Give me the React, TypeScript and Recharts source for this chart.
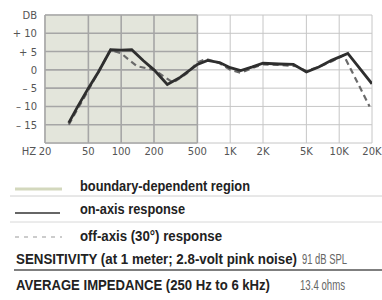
import React from "react";
import { LineChart, Line, XAxis, YAxis, CartesianGrid, ReferenceArea, ReferenceLine } from "recharts";

const freqTicks = [20, 50, 100, 200, 500, 1000, 2000, 5000, 10000, 20000];
const freqTickLabels = ["20", "50", "100", "200", "500", "1K", "2K", "5K", "10K", "20K"];
const dbTicks = [15, 10, 5, 0, -5, -10, -15, -20];
const dbTickLabels = ["DB", "+ 10", "+ 5", "0", "\u2013 5", "\u2013 10", "\u2013 15", ""];

const onAxisFreq = [33, 40, 50, 62, 80, 100, 125, 160, 200, 265, 350, 500, 620, 800, 1000, 1250, 1600, 2000, 2800, 3800, 5000, 6500, 8500, 12000, 20000];
const onAxisDb = [-14.5, -10, -5, -0.5, 5.5, 5.4, 5.5, 2.5, 0, -4, -2, 1.5, 2.6, 2, 0.6, -0.2, 0.8, 1.8, 1.6, 1.5, -0.6, 0.8, 2.6, 4.5, -3.8];

const offAxisFreq = [33, 50, 80, 100, 115, 140, 200, 300, 400, 500, 600, 800, 1000, 1250, 1600, 2000, 3000, 4000, 5000, 6500, 8500, 11000, 19000];
const offAxisDb = [-15, -5.5, 5.5, 4.5, 3, 1, 0, -3.5, -1, 2, 3, 1.8, 0, -0.8, 0.5, 1.5, 1.3, 1, -0.3, 0.8, 2.3, 4, -10];

const boundaryRegion = [20, 500];

const legendItems = ["boundary-dependent region", "on-axis response", "off-axis (30\u00b0) response"];
const specLabels = ["SENSITIVITY (at 1 meter; 2.8-volt pink noise)", "AVERAGE IMPEDANCE (250 Hz to 6 kHz)"];
const specValues = ["91 dB SPL", "13.4 ohms"];

const onAxisData = onAxisFreq.map((f, i) => ({ f, db: onAxisDb[i] }));
const offAxisData = offAxisFreq.map((f, i) => ({ f, db: offAxisDb[i] }));

const axisFont = "'DejaVu Sans', sans-serif";
const legendFont = "'Liberation Sans', Arial, sans-serif";
const SX = 0.75;

const legendLayout = [
  { x: 80, y: 191, w: 170 },
  { x: 80, y: 214, w: 105 },
  { x: 80, y: 241, w: 142 },
];
const specLayout = [
  { x: 16, y: 264, w: 281, vx: 302, vw: 45 },
  { x: 16, y: 290, w: 254, vx: 300, vw: 45 },
];

const FitText = ({ x, y, w, bold, fill, children }: any) => (
  <text
    transform={`translate(${x},${y}) scale(${SX},1)`}
    x={0}
    y={0}
    textLength={w / SX}
    lengthAdjust="spacingAndGlyphs"
    fontFamily={legendFont}
    fontWeight={bold ? "bold" : "normal"}
    fontSize={14}
    fill={fill}
  >
    {children}
  </text>
);

const XTick = (props: any) => {
  const { x, payload } = props;
  const idx = freqTicks.indexOf(payload.value);
  const label = freqTickLabels[idx] ?? "";
  return (
    <g>
      {idx === 0 && (
        <text x={x - 9} y={155} textAnchor="end" fontSize={10} fontFamily={axisFont} fill="#555">HZ</text>
      )}
      <text x={x} y={155} textAnchor="middle" fontSize={10} fontFamily={axisFont} fill="#555">{label}</text>
    </g>
  );
};

const YTick = (props: any) => {
  const { y, payload } = props;
  const idx = dbTicks.indexOf(payload.value);
  const label = dbTickLabels[idx] ?? "";
  return (
    <text x={37} y={y + 4} textAnchor="end" fontSize={10} fontFamily={axisFont} fill="#555">{label}</text>
  );
};

export default function App() {
  return (
    <div style={{ position: "absolute", left: 0, top: 0, width: 382, height: 300, background: "#fff", overflow: "hidden" }}>
      <LineChart width={382} height={165} margin={{ top: 15, right: 10, left: 0, bottom: 0 }}>
        <CartesianGrid stroke="#c6c6c6" strokeWidth={1} />
        <ReferenceArea x1={boundaryRegion[0]} x2={boundaryRegion[1]} y1={-20} y2={15} fill="#e0e2d7" fillOpacity={0.9} stroke="none" />
        {dbTicks.map((v) => (
          <ReferenceLine key={"h" + v} segment={[{ x: boundaryRegion[0], y: v }, { x: boundaryRegion[1], y: v }]} stroke="#a6a6a6" strokeWidth={1.6} />
        ))}
        {freqTicks.filter((f) => f >= boundaryRegion[0] && f <= boundaryRegion[1]).map((f) => (
          <ReferenceLine key={"v" + f} x={f} stroke="#a6a6a6" strokeWidth={1.6} />
        ))}
        <XAxis
          dataKey="f"
          type="number"
          scale="log"
          domain={[20, 20000]}
          ticks={freqTicks}
          allowDataOverflow
          axisLine={false}
          tickLine={false}
          height={22}
          tick={<XTick />}
          interval={0}
        />
        <YAxis
          type="number"
          domain={[-20, 15]}
          ticks={dbTicks}
          axisLine={false}
          tickLine={false}
          width={45}
          tick={<YTick />}
          interval={0}
        />
        <Line data={offAxisData} dataKey="db" stroke="#6a6a6a" strokeWidth={2.2} strokeDasharray="6 4" dot={false} isAnimationActive={false} />
        <Line data={onAxisData} dataKey="db" stroke="#2e2e2e" strokeWidth={2.8} dot={false} isAnimationActive={false} />
      </LineChart>

      <svg style={{ position: "absolute", left: 0, top: 0 }} width={382} height={300}>
        <line x1={15} x2={62} y1={189} y2={189} stroke="#d3d8bd" strokeWidth={3} />
        <line x1={15} x2={60} y1={213} y2={213} stroke="#333" strokeWidth={1.6} />
        <line x1={15} x2={62} y1={237} y2={237} stroke="#999" strokeWidth={1.2} strokeDasharray="4 5" />
        <line x1={10} x2={382} y1={196} y2={196} stroke="#d0d0d0" strokeWidth={1} />
        <line x1={10} x2={382} y1={222} y2={222} stroke="#d8d8d8" strokeWidth={1} />
        <line x1={14} x2={382} y1={270} y2={270} stroke="#555" strokeWidth={1.6} />
        {legendItems.map((t, i) => (
          <FitText key={t} x={legendLayout[i].x} y={legendLayout[i].y} w={legendLayout[i].w} bold fill="#222">{t}</FitText>
        ))}
        {specLabels.map((t, i) => (
          <FitText key={t} x={specLayout[i].x} y={specLayout[i].y} w={specLayout[i].w} bold fill="#222">{t}</FitText>
        ))}
        {specValues.map((t, i) => (
          <FitText key={t} x={specLayout[i].vx} y={specLayout[i].y} w={specLayout[i].vw} fill="#666">{t}</FitText>
        ))}
      </svg>
    </div>
  );
}
